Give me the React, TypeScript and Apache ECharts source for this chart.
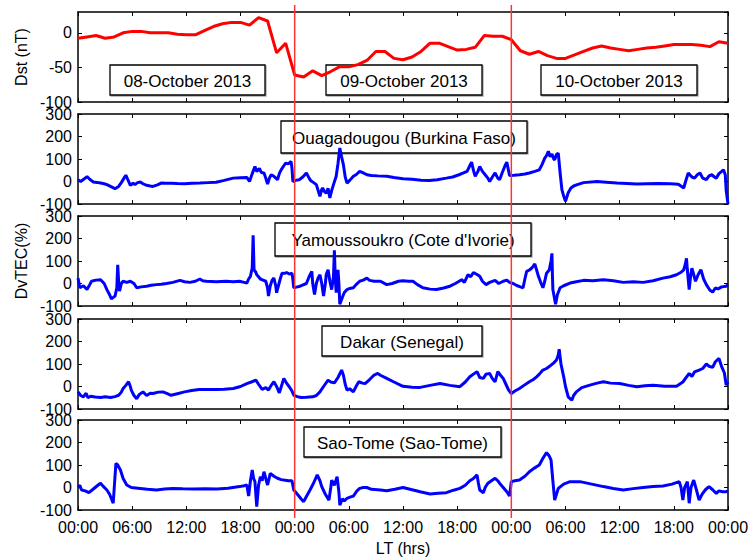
import React, { useEffect, useRef } from "react";
import * as echarts from "echarts";

// ---------- data ----------
const hourTickLabels = ["00:00","06:00","12:00","18:00","00:00","06:00","12:00","18:00","00:00","06:00","12:00","18:00","00:00"];
const dateLabels = ["08-October 2013", "09-October 2013", "10-October 2013"];
const stationNames = ["Ouagadougou (Burkina Faso)", "Yamoussoukro (Cote d'Ivorie)", "Dakar (Senegal)", "Sao-Tome (Sao-Tome)"];
const dayBoundaries = [24, 48];

// hourly Dst (nT), hours 0..72
const dstValues = [
  -8, -6, -4, -8, -6, 0, 2, 2, 0, 0, 0, -2, -3, -3, 3, 9, 13, 15, 15, 11, 22, 17, -29, -15,
  -61, -64, -55, -62, -56, -49, -49, -46, -40, -27, -27, -37, -39, -35, -27, -15, -15, -20, -25, -24, -21, -4, -5, -5,
  -10, -26, -31, -27, -33, -37, -37, -32, -27, -22, -19, -22, -24, -26, -24, -22, -21, -19, -17, -17, -17, -18, -20, -13, -15,
];

const ouagaTEC = [
  [0,8],[0.3,0],[0.7,12],[1.0,22],[1.3,10],[1.7,-2],[2.1,-4],[2.5,-7],[2.9,-10],[3.2,-14],[3.6,-22],[4.1,-32],[4.5,-22],[4.8,-5],[5.1,15],[5.3,28],[5.5,10],[5.8,-17],[6.1,-8],[6.3,-14],[6.6,-5],[6.9,-2],[7.2,-10],[7.6,-17],[8.0,-20],[8.3,-22],[8.8,-15],[9.2,-7],[9.7,-8],[10.3,-8],[11.0,-9],[11.8,-10],[12.6,-8],[13.5,-7],[14.4,-5],[15.3,-3],[16.2,5],[17.2,15],[18.0,17],[18.7,18],[19.0,0],[19.3,35],[19.6,67],[19.8,45],[20.1,58],[20.3,40],[20.6,38],[20.8,15],[21.0,-11],[21.2,15],[21.4,30],[21.7,23],[22.1,8],[22.3,35],[22.5,52],[22.8,70],[23.0,82],[23.3,78],[23.6,89],[23.7,60],[23.8,0],[24.1,5],[24.5,8],[24.9,20],[25.3,38],[25.6,15],[25.8,3],[26.1,-5],[26.4,-14],[26.6,-40],[26.8,-66],[27.0,-35],[27.1,-29],[27.3,-45],[27.5,-52],[27.7,-30],[27.9,-73],[28.1,-40],[28.3,-14],[28.6,23],[28.8,80],[29.0,149],[29.2,110],[29.4,74],[29.6,20],[29.8,-7],[30.1,5],[30.5,23],[30.8,30],[31.2,45],[31.6,38],[32.0,30],[32.5,27],[33.2,25],[34.2,23],[35.0,18],[36.0,12],[37.0,10],[38.0,6],[38.9,4],[39.8,8],[40.8,15],[41.5,20],[42.2,30],[42.7,38],[43.1,45],[43.4,70],[43.6,86],[43.8,50],[44.0,23],[44.3,45],[44.5,67],[44.8,45],[45.1,30],[45.4,15],[45.6,0],[45.9,20],[46.2,38],[46.5,15],[46.7,8],[47.0,40],[47.3,70],[47.5,86],[47.8,27],[48.3,28],[48.9,30],[49.5,33],[50.0,38],[50.6,45],[51.1,52],[51.4,75],[51.7,104],[51.9,115],[52.1,134],[52.3,110],[52.5,122],[52.7,100],[52.8,97],[53.0,120],[53.2,126],[53.4,40],[53.6,-36],[53.8,-65],[54.0,-88],[54.3,-50],[54.6,-29],[54.9,-20],[55.3,-14],[56.0,-5],[57.5,0],[58.5,-3],[59.7,-7],[60.8,-9],[61.9,-11],[63.0,-10],[64.3,-9],[65.6,-10],[66.5,-12],[67.1,-29],[67.3,0],[67.6,38],[68.0,20],[68.3,15],[68.6,30],[68.9,38],[69.2,15],[69.6,8],[69.9,25],[70.2,30],[70.5,20],[70.7,15],[71.0,35],[71.3,45],[71.5,52],[71.7,30],[71.8,-40],[72.0,-100],
];

const yamoTEC = [
  [0,24],[0.2,-19],[0.6,-10],[1.0,-27],[1.3,-5],[1.5,10],[2.0,15],[2.5,17],[2.9,0],[3.2,-27],[3.5,-50],[3.7,-68],[4.1,-56],[4.3,-20],[4.4,83],[4.5,10],[4.6,-34],[4.8,0],[5.0,10],[5.4,5],[5.8,10],[6.2,0],[6.5,-19],[7.0,-15],[7.6,-12],[8.1,-8],[8.7,-5],[9.2,-3],[9.8,0],[10.5,5],[11.3,14],[11.8,8],[12.4,5],[13.0,10],[13.5,20],[13.8,12],[14.2,10],[15.3,8],[16.4,10],[17.2,8],[17.9,10],[18.4,5],[18.7,2],[18.9,20],[19.1,32],[19.3,70],[19.4,214],[19.5,61],[19.7,50],[19.8,39],[20.0,30],[20.2,20],[20.5,15],[20.8,10],[21.0,-20],[21.1,-56],[21.3,-10],[21.5,15],[21.7,24],[21.9,-10],[22.0,-41],[22.2,-10],[22.4,20],[22.6,46],[22.9,45],[23.1,49],[23.4,42],[23.7,46],[23.8,20],[23.9,-19],[24.3,-15],[24.6,-12],[25.0,-5],[25.3,0],[25.6,30],[25.9,54],[26.0,0],[26.2,-49],[26.4,0],[26.6,25],[26.8,39],[27.0,0],[27.2,-56],[27.4,0],[27.5,40],[27.7,61],[27.9,10],[28.1,-27],[28.3,30],[28.4,148],[28.5,20],[28.6,-41],[28.7,20],[28.8,61],[28.9,0],[29.0,-92],[29.3,-60],[29.5,-40],[29.8,-27],[30.1,-22],[30.5,-19],[30.8,-5],[31.2,10],[31.6,15],[32.0,24],[32.3,14],[32.8,10],[33.5,10],[34.2,-5],[34.8,0],[35.5,10],[36.0,12],[36.6,10],[37.1,10],[37.6,-5],[38.2,-19],[39.0,-25],[39.7,-27],[40.5,-20],[41.2,-12],[41.8,0],[42.5,17],[42.8,5],[43.2,39],[43.5,30],[43.8,49],[44.2,40],[44.5,32],[44.8,10],[45.2,-5],[45.6,5],[46.2,14],[46.6,0],[47.1,10],[47.5,15],[47.8,5],[48.2,0],[48.6,-9],[49.0,-15],[49.3,-19],[49.5,20],[49.7,54],[50.0,60],[50.3,70],[50.6,87],[50.8,60],[51.0,32],[51.3,0],[51.5,-19],[51.7,10],[51.9,46],[52.2,60],[52.4,100],[52.5,134],[52.55,40],[52.6,-27],[52.8,-70],[52.9,-92],[53.1,-50],[53.4,-19],[53.8,-10],[54.5,2],[55.2,8],[56.0,14],[57.0,12],[58.2,17],[59.3,12],[60.4,5],[61.5,8],[62.6,5],[63.7,12],[64.8,24],[65.6,30],[66.3,39],[66.8,50],[67.1,61],[67.3,90],[67.4,112],[67.5,60],[67.7,-27],[67.85,30],[68.0,68],[68.2,40],[68.4,10],[68.7,40],[69.0,61],[69.3,20],[69.6,-5],[70.0,-30],[70.3,-38],[70.6,-20],[70.9,-24],[71.3,-15],[71.8,-12],[72,-5],
];

const dakarTEC = [
  [0,-24],[0.3,-40],[0.6,-46],[0.9,-30],[1.1,-50],[1.4,-43],[1.9,-47],[2.5,-49],[3.0,-46],[3.6,-49],[4.1,-45],[4.5,-39],[4.8,-25],[5.0,-9],[5.3,5],[5.6,21],[5.8,0],[5.9,-16],[6.2,-40],[6.5,-54],[6.8,-35],[7.2,-24],[7.6,-40],[8.0,-30],[8.3,-31],[8.9,-25],[9.4,-24],[9.9,-32],[10.3,-39],[11.0,-32],[11.8,-24],[12.6,-18],[13.4,-13],[14.4,-13],[15.3,-13],[16.2,-12],[17.2,-9],[18.0,0],[18.7,13],[19.2,20],[19.7,28],[20.0,10],[20.4,-13],[20.8,-5],[21.1,-16],[21.4,5],[21.7,21],[22.0,0],[22.3,-28],[22.6,10],[22.8,36],[23.1,15],[23.4,-1],[23.7,-20],[23.9,-39],[24.3,-45],[24.7,-49],[25.3,-48],[26.0,-46],[26.4,-40],[26.8,-24],[27.2,0],[27.7,28],[28.0,20],[28.4,16],[28.8,40],[29.2,73],[29.4,50],[29.6,10],[29.8,-16],[30.1,-10],[30.5,-24],[30.8,0],[31.1,21],[31.5,15],[31.8,13],[32.3,31],[32.8,51],[33.2,58],[33.5,50],[34.2,36],[35.0,20],[36.0,1],[37.0,-3],[37.9,-4],[39.0,5],[40.1,13],[41.2,5],[42.3,-1],[42.9,20],[43.4,43],[43.8,55],[44.2,66],[44.5,40],[44.9,36],[45.2,55],[45.6,58],[45.9,35],[46.2,21],[46.5,66],[46.8,50],[47.1,36],[47.4,10],[47.7,-16],[48.0,-31],[48.4,-20],[48.9,-9],[49.4,5],[50.0,21],[50.4,30],[50.8,43],[51.1,55],[51.5,73],[51.9,80],[52.4,95],[52.7,105],[53.0,118],[53.2,140],[53.3,166],[53.5,100],[53.8,43],[54.0,0],[54.3,-46],[54.7,-61],[54.9,-40],[55.2,-24],[55.8,-5],[56.7,6],[57.5,15],[58.2,21],[59.0,15],[60.0,13],[61.0,5],[61.9,-1],[62.8,3],[63.7,6],[65.0,1],[66.3,1],[67.0,20],[67.7,58],[68.0,45],[68.3,65],[68.8,73],[69.2,80],[69.6,100],[69.9,90],[70.3,85],[70.6,110],[71.0,125],[71.3,88],[71.6,60],[71.8,6],[72.0,20],
];

const saoTomeTEC = [
  [0,0],[0.2,10],[0.4,-11],[0.8,-15],[1.2,-23],[1.6,-10],[1.9,0],[2.2,10],[2.5,19],[2.8,5],[3.2,-11],[3.5,-30],[3.7,-50],[3.9,-70],[4.05,20],[4.2,107],[4.4,100],[4.7,78],[5.0,40],[5.4,11],[5.9,0],[6.9,-4],[7.7,-8],[8.7,-11],[9.6,-7],[10.5,-4],[11.6,-6],[12.8,-7],[14.1,-6],[15.4,-7],[16.6,-3],[17.9,4],[18.4,8],[18.7,11],[18.9,-38],[19.1,30],[19.3,78],[19.45,40],[19.6,26],[19.8,-85],[20.0,10],[20.2,48],[20.4,30],[20.6,70],[20.8,40],[21.0,11],[21.3,63],[21.7,50],[22.1,41],[22.5,35],[22.8,33],[23.3,30],[23.7,30],[23.9,-11],[24.3,-30],[24.7,-50],[25.0,-63],[25.3,-40],[25.7,-11],[26.1,20],[26.5,56],[26.8,30],[27.0,4],[27.4,-30],[27.8,-56],[28.0,0],[28.1,33],[28.4,10],[28.7,48],[28.9,-20],[29.0,-78],[29.3,-50],[29.5,-60],[29.8,-48],[30.2,-42],[30.5,-38],[30.9,-15],[31.2,-4],[31.6,0],[32.0,0],[32.5,-8],[33.5,-11],[34.2,-14],[35.1,-8],[36.0,0],[37.0,-10],[37.9,-19],[39.0,-29],[39.9,-26],[40.8,-23],[41.6,-12],[42.3,-4],[42.9,10],[43.4,30],[43.8,40],[44.2,56],[44.35,20],[44.5,-11],[44.9,-23],[45.1,0],[45.4,19],[45.8,30],[46.2,41],[46.5,30],[46.7,19],[47.1,0],[47.5,-19],[47.8,-38],[48.0,26],[48.4,30],[48.9,33],[49.5,50],[50.0,70],[50.5,85],[51.1,100],[51.5,130],[51.9,155],[52.2,140],[52.4,122],[52.6,30],[52.8,-56],[53.0,-30],[53.2,-4],[53.8,15],[54.5,26],[55.6,26],[56.9,15],[58.2,4],[59.3,-4],[60.4,-11],[61.5,-5],[62.6,0],[63.7,4],[64.8,7],[65.8,15],[66.6,26],[66.8,0],[67.0,-56],[67.2,0],[67.5,26],[67.6,-20],[67.7,-70],[67.9,0],[68.2,33],[68.5,-10],[68.8,-56],[69.0,-40],[69.2,-26],[69.5,-10],[69.9,4],[70.3,-10],[70.7,-26],[71.0,-15],[71.4,-19],[71.8,-19],[72.0,-15],
];

const tecSeries = [ouagaTEC, yamoTEC, dakarTEC, saoTomeTEC];

// ---------- layout ----------
const FONT = "'Liberation Sans', Arial, sans-serif";
const GRID_LEFT = 78;
const GRID_WIDTH = 650;
const GRID_TOPS = [12, 114, 216, 319, 420];
const GRID_H = 90;
const dateBoxes = [
  { x: 110, y: 65, w: 155, h: 30 },
  { x: 326, y: 65, w: 156, h: 30 },
  { x: 541, y: 65, w: 156, h: 30 },
];
const stationBoxes = [
  { x: 281, y: 121, w: 246, h: 32 },
  { x: 275, y: 223, w: 256, h: 33 },
  { x: 322, y: 326, w: 160, h: 30 },
  { x: 304, y: 427, w: 197, h: 30 },
];

function box(b: { x: number; y: number; w: number; h: number }, text: string) {
  return {
    type: "group",
    x: b.x,
    y: b.y,
    z: 50,
    children: [
      {
        type: "rect",
        shape: { x: 0, y: 0, width: b.w, height: b.h },
        style: { fill: "#fff", stroke: "#000", lineWidth: 1.3, shadowColor: "rgba(0,0,0,0.35)", shadowOffsetX: 1, shadowOffsetY: 1, shadowBlur: 1 },
      },
      {
        type: "text",
        x: b.w / 2,
        y: b.h / 2 + 1,
        style: { text, fontSize: 17, fontFamily: FONT, fill: "#000", align: "center", verticalAlign: "middle" },
      },
    ],
  };
}

export default function App() {
  const ref = useRef<HTMLDivElement>(null);

  useEffect(() => {
    document.body.style.margin = "0";
    if (!ref.current) return;
    const chart = echarts.init(ref.current, undefined, { renderer: "svg" });

    const grids = GRID_TOPS.map((t) => ({ left: GRID_LEFT, top: t, width: GRID_WIDTH, height: GRID_H }));
    const xAxes: any[] = [];
    const yAxes: any[] = [];
    GRID_TOPS.forEach((_, i) => {
      const isLast = i === GRID_TOPS.length - 1;
      const common = {
        gridIndex: i,
        type: "value",
        min: 0,
        max: 72,
        interval: 6,
        splitLine: { show: false },
        axisLine: { show: true, onZero: false, lineStyle: { color: "#000", width: 1.5 } },
        axisTick: { show: true, inside: true, length: 4, lineStyle: { color: "#000", width: 1 } },
      };
      xAxes.push({
        ...common,
        position: "bottom",
        axisLabel: {
          show: isLast,
          color: "#000",
          fontSize: 16,
          fontFamily: FONT,
          margin: 9,
          formatter: (v: number) => hourTickLabels[Math.round(v / 6)] ?? "",
        },
        name: isLast ? "LT (hrs)" : "",
        nameLocation: "middle",
        nameGap: 30,
        nameTextStyle: { color: "#000", fontSize: 16, fontFamily: FONT },
      });
      xAxes.push({ ...common, position: "top", axisLabel: { show: false } });

      const isDst = i === 0;
      const yCommon = {
        gridIndex: i,
        type: "value",
        min: -100,
        max: isDst ? 30 : 300,
        interval: isDst ? 50 : 100,
        splitLine: { show: false },
        axisLine: { show: true, onZero: false, lineStyle: { color: "#000", width: 1.5 } },
        axisTick: { show: true, inside: true, length: 4, lineStyle: { color: "#000", width: 1 } },
      };
      yAxes.push({
        ...yCommon,
        position: "left",
        axisLabel: { show: true, color: "#000", fontSize: 16, fontFamily: FONT, margin: 6, showMaxLabel: !isDst },
        name: isDst ? "Dst (nT)" : i === 2 ? "DvTEC(%)" : "",
        nameLocation: "middle",
        nameGap: isDst ? 49 : 45,
        nameTextStyle: { color: "#000", fontSize: 16, fontFamily: FONT },
      });
      yAxes.push({ ...yCommon, position: "right", axisLabel: { show: false } });
    });

    const series: any[] = [
      {
        type: "line",
        xAxisIndex: 0,
        yAxisIndex: 0,
        data: dstValues.map((v, h) => [h, v]),
        showSymbol: false,
        lineStyle: { color: "#ff0000", width: 3 },
        z: 3,
      },
      ...tecSeries.map((d, k) => ({
        type: "line",
        xAxisIndex: 2 * (k + 1),
        yAxisIndex: 2 * (k + 1),
        data: d,
        showSymbol: false,
        lineStyle: { color: "#0000ff", width: 3 },
        z: 3,
      })),
    ];

    chart.setOption({
      animation: false,
      backgroundColor: "#fff",
      textStyle: { fontFamily: FONT },
      grid: grids,
      xAxis: xAxes,
      yAxis: yAxes,
      series,
    });

    const yTop = GRID_TOPS[0] - 7;
    const yBottom = GRID_TOPS[GRID_TOPS.length - 1] + GRID_H + 8;
    const redLines = dayBoundaries.map((h) => {
      const px = chart.convertToPixel({ xAxisIndex: 0 }, h) as number;
      return {
        type: "line",
        z: 60,
        shape: { x1: px, y1: yTop, x2: px, y2: yBottom },
        style: { stroke: "#ff3333", lineWidth: 1.5 },
      };
    });

    chart.setOption({
      graphic: [
        ...dateBoxes.map((b, i) => box(b, dateLabels[i])),
        ...stationBoxes.map((b, i) => box(b, stationNames[i])),
        ...redLines,
      ],
    });

    return () => chart.dispose();
  }, []);

  return <div ref={ref} style={{ width: 753, height: 557 }} />;
}
